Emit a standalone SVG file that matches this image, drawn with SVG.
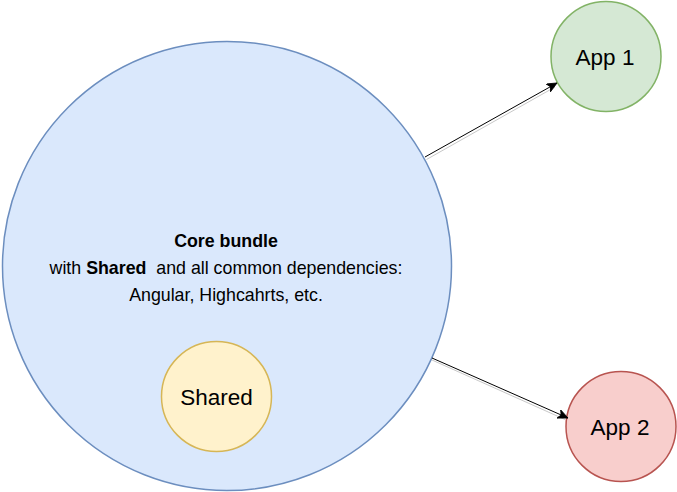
<svg xmlns="http://www.w3.org/2000/svg" width="677" height="492" viewBox="0 0 677 492">
  <style>
    .lbl { font-family: "Liberation Sans", Arial, sans-serif; fill: #000; text-anchor: middle; white-space: pre; }
    .small { font-size: 17.8px; }
    .big { font-size: 22.5px; }
    .edge { fill: none; stroke: #000; stroke-width: 1; }
    .shadow { fill: none; stroke: #c8c8c8; stroke-width: 1; }
  </style>
  <defs>
    <marker id="arrow" markerUnits="userSpaceOnUse" markerWidth="12" markerHeight="10" refX="10" refY="4.5" orient="auto">
      <path d="M0,0 L10,4.5 L0,9 L2.5,4.5 Z" fill="#000" stroke="#000" stroke-width="0.8"/>
    </marker>
  </defs>
  <rect width="677" height="492" fill="#ffffff"/>
  <g id="core">
    <circle cx="227" cy="266" r="224.5" fill="#dae8fc" stroke="#6c8ebf" stroke-width="1.5"/>
    <text class="lbl small" x="226" y="247" font-weight="bold">Core bundle</text>
    <text class="lbl small" x="226" y="274" xml:space="preserve">with <tspan font-weight="bold">Shared</tspan>  and all common dependencies:</text>
    <text class="lbl small" x="226" y="301">Angular, Highcahrts, etc.</text>
  </g>
  <g id="shared">
    <circle cx="216.5" cy="396.5" r="55" fill="#fff2cc" stroke="#d6b656" stroke-width="1.5"/>
    <text class="lbl big" x="216.5" y="405">Shared</text>
  </g>
  <g id="app1">
    <circle cx="606" cy="56.5" r="55" fill="#d5e8d4" stroke="#82b366" stroke-width="1.5"/>
    <text class="lbl big" x="605" y="64.5">App 1</text>
  </g>
  <g id="app2">
    <circle cx="621" cy="426.5" r="55" fill="#f8cecc" stroke="#b85450" stroke-width="1.5"/>
    <text class="lbl big" x="620" y="435">App 2</text>
  </g>
  <g id="connectors">
    <line class="shadow" x1="426.5" y1="159.5" x2="555" y2="87"/>
    <line class="edge" x1="425" y1="157" x2="557" y2="83" marker-end="url(#arrow)"/>
    <line class="shadow" x1="432" y1="360" x2="565" y2="419.5"/>
    <line class="edge" x1="432" y1="358" x2="568" y2="418" marker-end="url(#arrow)"/>
  </g>
</svg>
